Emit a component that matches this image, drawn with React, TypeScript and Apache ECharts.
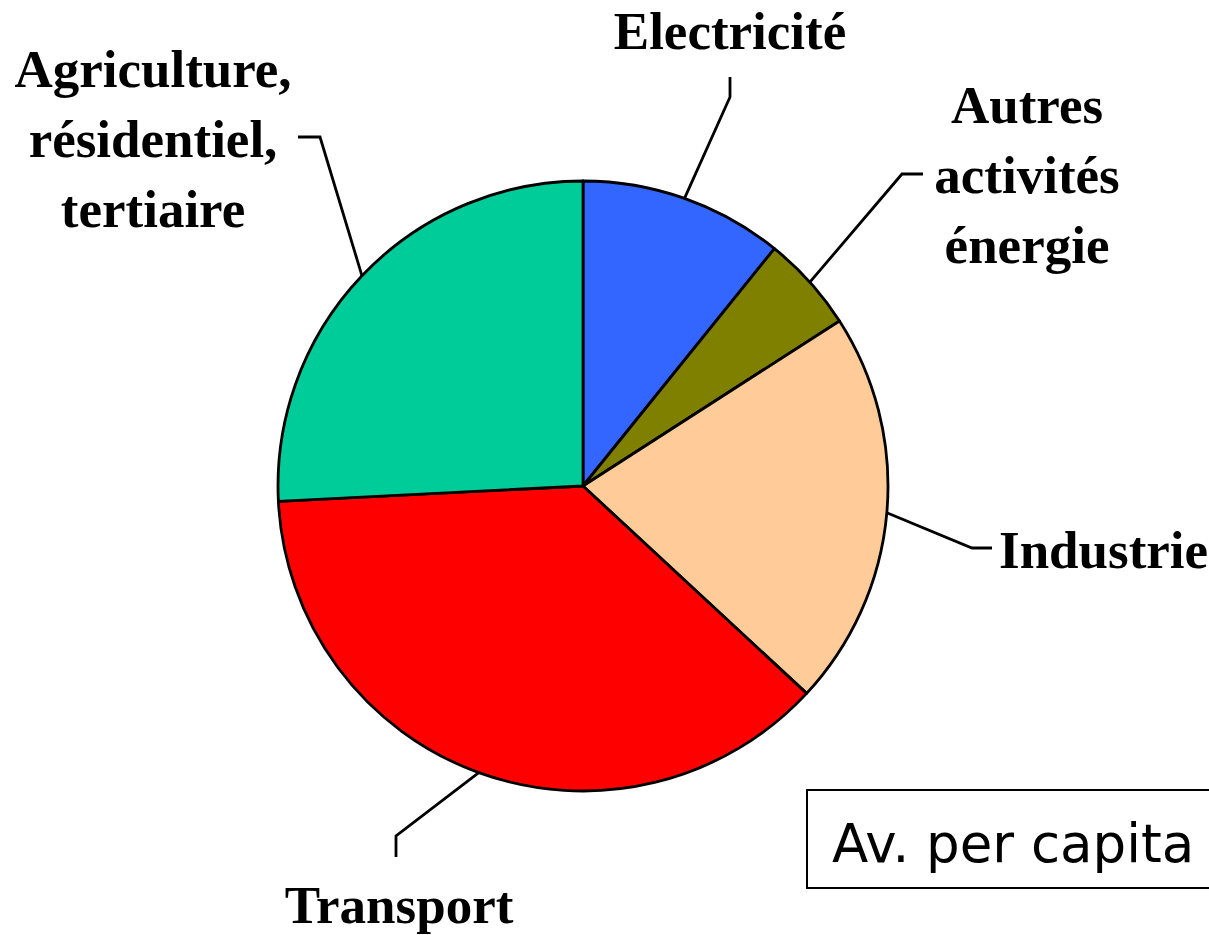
import React, { useEffect, useRef } from "react";
import * as echarts from "echarts";

const categories = [
  "Electricité",
  "Autres\nactivités\nénergie",
  "Industrie",
  "Transport",
  "Agriculture,\nrésidentiel,\ntertiaire",
];
const values = [10.8, 5.1, 21.0, 37.3, 25.8];
const colors = ["#3366FF", "#808000", "#FFCC99", "#FF0000", "#00CC99"];
const boxText = "Av. per capita";

// label placement (layout only)
const labelPos = [
  { x: 730, y: 31, align: "center", line: [[730, 97], [730, 77]] },
  { x: 1027, y: 175, align: "center", line: [[902, 174], [923, 174]] },
  { x: 999, y: 550, align: "left", line: [[972, 548], [992, 548]] },
  { x: 399, y: 905, align: "center", line: [[396, 836], [396, 857]] },
  { x: 153, y: 139, align: "center", line: [[320, 137], [298, 137]] },
];

export default function App() {
  const ref = useRef<HTMLDivElement>(null);
  useEffect(() => {
    document.body.style.margin = "0";
    const chart = echarts.init(ref.current!, null, { renderer: "svg" });
    chart.setOption({
      animation: false,
      backgroundColor: "#ffffff",
      series: [
        {
          type: "pie",
          center: [583, 486],
          radius: 305,
          startAngle: 90,
          clockwise: true,
          avoidLabelOverlap: false,
          data: categories.map((c, i) => ({
            name: c,
            value: values[i],
            itemStyle: { color: colors[i] },
          })),
          itemStyle: { borderColor: "#000", borderWidth: 2.8 },
          label: {
            show: true,
            position: "outside",
            formatter: "{b}",
            fontFamily: "'Liberation Serif', 'Times New Roman', serif",
            fontWeight: "bold",
            fontSize: 53,
            lineHeight: 70,
            color: "#000",
          },
          labelLine: {
            show: true,
            length: 30,
            length2: 20,
            lineStyle: { color: "#000", width: 2.8 },
          },
          emphasis: { disabled: true },
          labelLayout: (params: any) => {
            const p = labelPos[params.dataIndex];
            const start = params.labelLinePoints
              ? params.labelLinePoints[0]
              : [0, 0];
            return {
              x: p.x,
              y: p.y,
              align: p.align,
              verticalAlign: "middle",
              labelLinePoints: [start, p.line[0], p.line[1]],
            };
          },
        },
      ],
      graphic: [
        {
          type: "rect",
          shape: { x: 807, y: 790, width: 406, height: 98 },
          style: { fill: "#fff", stroke: "#000", lineWidth: 2 },
        },
        {
          type: "text",
          x: 832,
          y: 843,
          style: {
            text: boxText,
            font: "53px 'DejaVu Sans', sans-serif",
            fill: "#000",
            textVerticalAlign: "middle",
          },
        },
      ],
    });
    return () => chart.dispose();
  }, []);
  return (
    <div
      ref={ref}
      style={{ position: "absolute", left: 0, top: 0, width: 1209, height: 935 }}
    />
  );
}
